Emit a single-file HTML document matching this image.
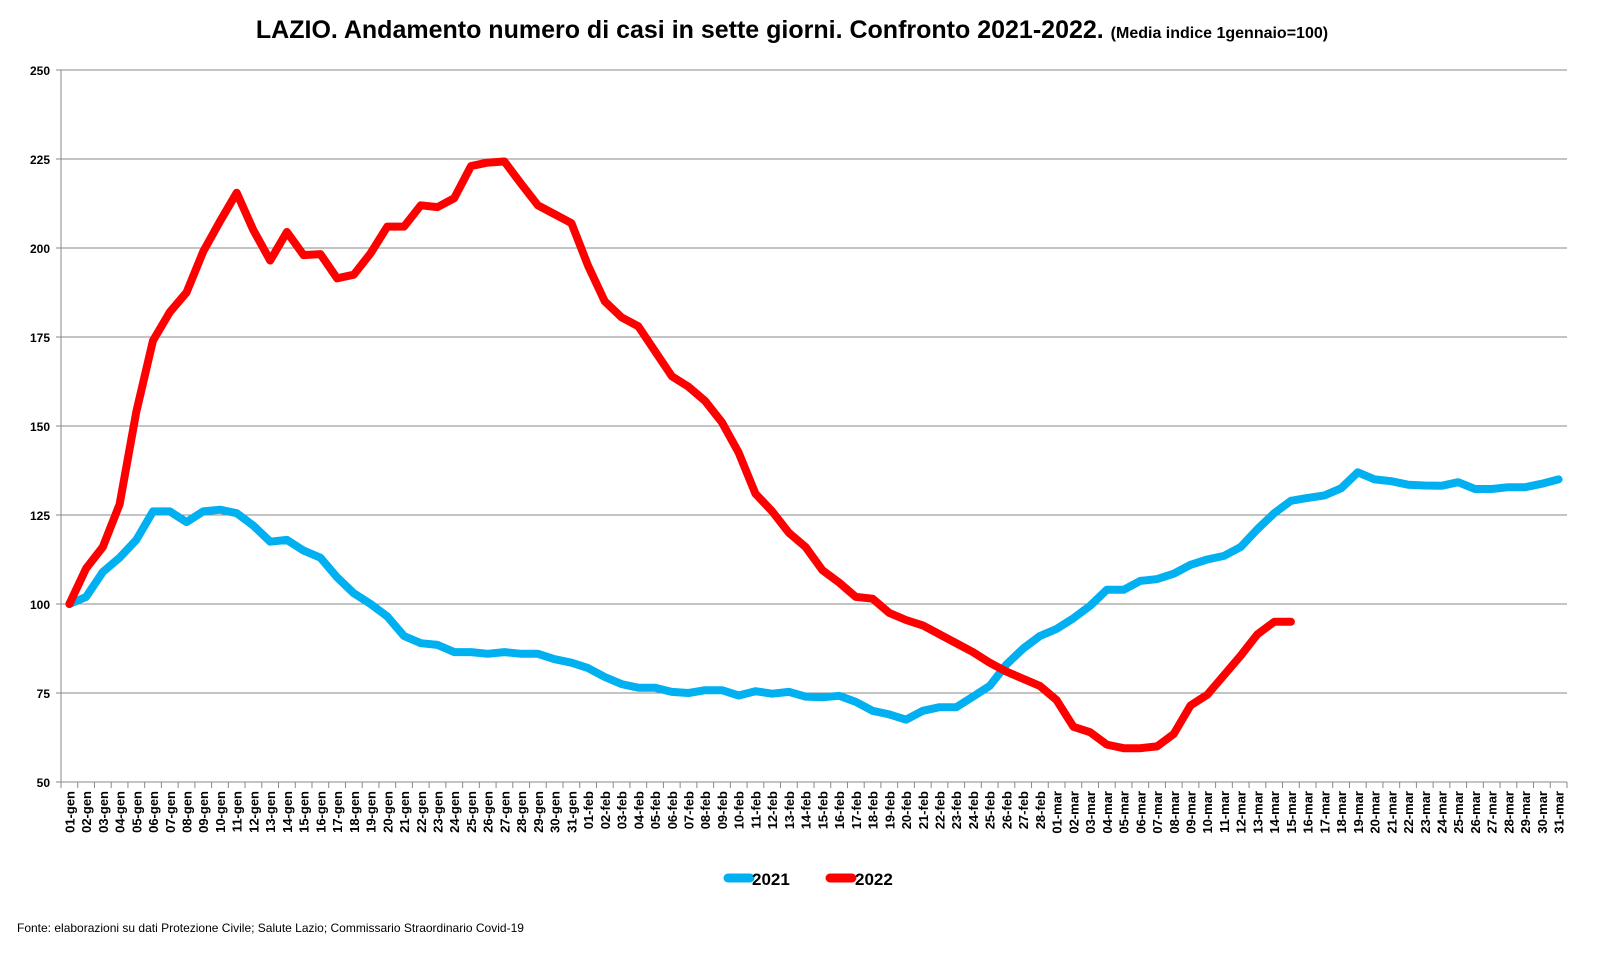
<!DOCTYPE html>
<html><head><meta charset="utf-8"><style>
body{margin:0;background:#fff;}
svg{display:block;font-family:"Liberation Sans",sans-serif;}
</style></head><body>
<svg id="s" width="1600" height="954" viewBox="0 0 1600 954">
<text x="792" y="38" font-size="25" font-weight="bold" text-anchor="middle">LAZIO. Andamento numero di casi in sette giorni. Confronto 2021-2022. <tspan font-size="16">(Media indice 1gennaio=100)</tspan></text>
<g id="grid" stroke="#888" stroke-width="1"></g>
<g font-size="12" font-weight="bold" text-anchor="end">
<text x="50" y="75">250</text><text x="50" y="164">225</text><text x="50" y="253">200</text><text x="50" y="342">175</text><text x="50" y="431">150</text><text x="50" y="520">125</text><text x="50" y="609">100</text><text x="50" y="698">75</text><text x="50" y="787">50</text>
</g>
<g id="lab" transform="rotate(-90)" font-size="13" font-weight="bold" text-anchor="end">
<text>01-gen</text><text>02-gen</text><text>03-gen</text><text>04-gen</text><text>05-gen</text><text>06-gen</text><text>07-gen</text><text>08-gen</text><text>09-gen</text><text>10-gen</text><text>11-gen</text><text>12-gen</text><text>13-gen</text><text>14-gen</text><text>15-gen</text><text>16-gen</text><text>17-gen</text><text>18-gen</text><text>19-gen</text><text>20-gen</text><text>21-gen</text><text>22-gen</text><text>23-gen</text><text>24-gen</text><text>25-gen</text><text>26-gen</text><text>27-gen</text><text>28-gen</text><text>29-gen</text><text>30-gen</text><text>31-gen</text>
<text>01-feb</text><text>02-feb</text><text>03-feb</text><text>04-feb</text><text>05-feb</text><text>06-feb</text><text>07-feb</text><text>08-feb</text><text>09-feb</text><text>10-feb</text><text>11-feb</text><text>12-feb</text><text>13-feb</text><text>14-feb</text><text>15-feb</text><text>16-feb</text><text>17-feb</text><text>18-feb</text><text>19-feb</text><text>20-feb</text><text>21-feb</text><text>22-feb</text><text>23-feb</text><text>24-feb</text><text>25-feb</text><text>26-feb</text><text>27-feb</text><text>28-feb</text>
<text>01-mar</text><text>02-mar</text><text>03-mar</text><text>04-mar</text><text>05-mar</text><text>06-mar</text><text>07-mar</text><text>08-mar</text><text>09-mar</text><text>10-mar</text><text>11-mar</text><text>12-mar</text><text>13-mar</text><text>14-mar</text><text>15-mar</text><text>16-mar</text><text>17-mar</text><text>18-mar</text><text>19-mar</text><text>20-mar</text><text>21-mar</text><text>22-mar</text><text>23-mar</text><text>24-mar</text><text>25-mar</text><text>26-mar</text><text>27-mar</text><text>28-mar</text><text>29-mar</text><text>30-mar</text><text>31-mar</text>
</g>
<polyline id="b" fill="none" stroke="#00b0f0" stroke-width="8" stroke-linejoin="round" stroke-linecap="round"/>
<polyline id="r" fill="none" stroke="#ff0000" stroke-width="8" stroke-linejoin="round" stroke-linecap="round"/>
<line x1="728" y1="878" x2="750" y2="878" stroke="#00b0f0" stroke-width="9" stroke-linecap="round"/>
<text x="752" y="885" font-size="17" font-weight="bold">2021</text>
<line x1="830" y1="878" x2="852" y2="878" stroke="#ff0000" stroke-width="9" stroke-linecap="round"/>
<text x="855" y="885" font-size="17" font-weight="bold">2022</text>
<text x="17" y="932" font-size="12">Fonte: elaborazioni su dati Protezione Civile; Salute Lazio; Commissario Straordinario Covid-19</text>
</svg>
<script>
var L=61,R=1567,N=90,w=(R-L)/N;
function Y(v){return 70+(250-v)*(712/200);}
var g=document.getElementById('grid'),h='';
for(var v=50;v<=250;v+=25){h+='<line x1="56" x2="'+R+'" y1="'+Y(v)+'" y2="'+Y(v)+'"/>';}
h+='<line x1="'+L+'" x2="'+L+'" y1="70" y2="782"/>';
for(var k=0;k<=N;k++){var x=L+w*k;h+='<line x1="'+x+'" x2="'+x+'" y1="782" y2="788"/>';}
g.innerHTML=h;
var t=document.getElementById('lab').getElementsByTagName('text');
for(var i=0;i<t.length;i++){t[i].setAttribute('x',-791);t[i].setAttribute('y',L+w*(i+0.5)+5);}
var b=[100,102,109,113,118,126,126,123,126,126.5,125.5,122,117.5,118,115,113,107.5,103,100,96.5,91,89,88.5,86.5,86.5,86,86.5,86,86,84.5,83.5,
82,79.5,77.5,76.5,76.5,75.3,75,75.8,75.8,74.3,75.5,74.8,75.3,74,73.8,74.2,72.5,70,69,67.5,70,71,71,74,77,83,87.5,91,
93,96,99.5,104,104,106.5,107,108.5,111,112.5,113.5,116,121,125.5,129,129.8,130.5,132.5,137,135,134.5,133.5,133.3,133.2,134.2,132.3,132.3,132.8,132.8,133.8,135];
var r=[100,110,116,128,154,174,182,187.5,199,207.5,215.5,205,196.5,204.5,198,198.3,191.5,192.5,198.5,206,206,212,211.5,214,223,224,224.3,218,212,209.5,207,
195,185,180.5,178,171,164,161,157,151,142.5,131,126,120,116,109.5,106,102,101.5,97.5,95.5,94,91.5,89,86.5,83.5,81,79,77,
73,65.5,64,60.5,59.5,59.5,60,63.5,71.5,74.5,80,85.5,91.5,95,95];
function P(a){return a.map(function(v,i){return (L+w*(i+0.5)).toFixed(1)+','+Y(v).toFixed(1);}).join(' ');}
document.getElementById('b').setAttribute('points',P(b));
document.getElementById('r').setAttribute('points',P(r));
</script>
</body></html>
